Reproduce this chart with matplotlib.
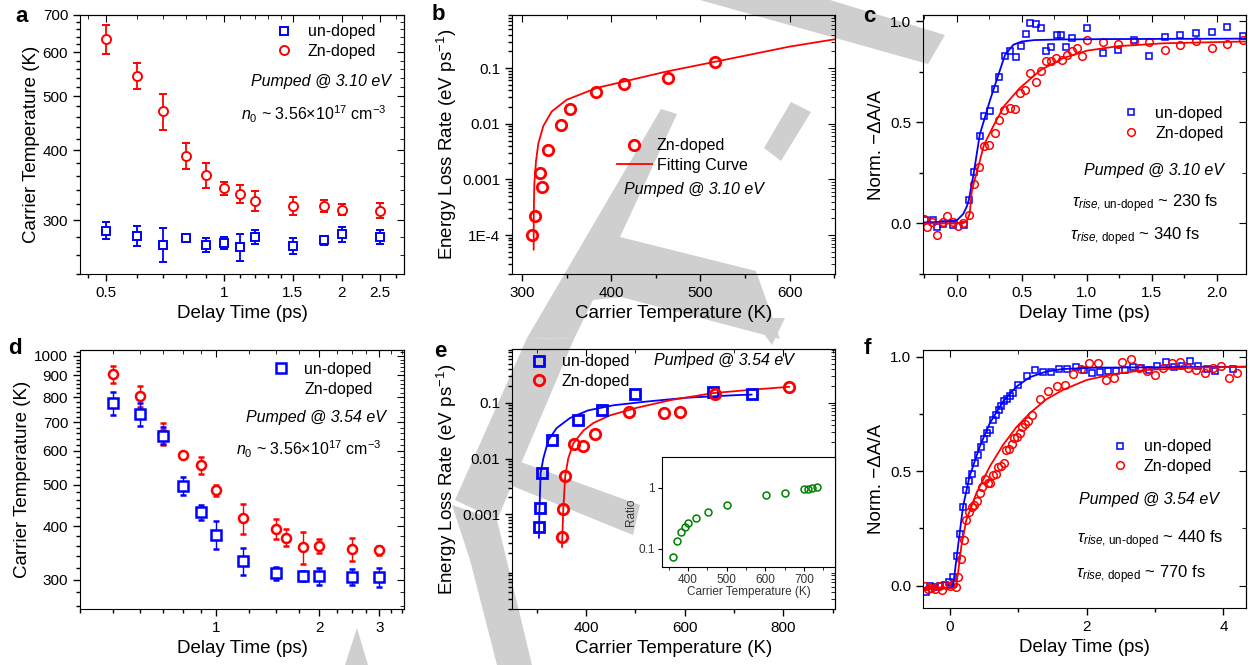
import numpy as np
import matplotlib.pyplot as plt
from matplotlib.ticker import NullFormatter
from matplotlib.lines import Line2D
from matplotlib.patches import Polygon

plt.rcParams['font.family'] = ['Liberation Sans', 'DejaVu Sans']
plt.rcParams['mathtext.fontset'] = 'custom'
plt.rcParams['mathtext.rm'] = 'Liberation Sans'
plt.rcParams['mathtext.it'] = 'Liberation Sans:italic'
plt.rcParams['mathtext.bf'] = 'Liberation Sans:bold'

BLUE = '#0000ff'
RED = '#ff0000'
GREEN = '#008000'

# ---- panel a : carrier temperature, pumped @ 3.10 eV
t_a = [0.5, 0.6, 0.7, 0.8, 0.9, 1.0, 1.1, 1.2, 1.5, 1.8, 2.0, 2.5]
Tzn_a = [634, 545, 471, 391, 361, 342, 334, 325, 318, 318, 313, 312]
Tzn_a_err = [37, 29, 35, 21, 19, 9, 12, 13, 12, 8, 7, 10]
Tun_a = [287, 281, 271, 278, 271, 273, 268, 280, 270, 276, 283, 280]
Tun_a_err = [10, 12, 19, 3, 8, 7, 15, 8, 9, 5, 9, 8]

# ---- panel b : energy loss rate, Zn-doped, 3.10 eV
T_b = [311.6, 314.9, 322.1, 319.8, 328.8, 344.1, 354.2, 383.0, 414.4, 464.1, 516.8]
rate_b = [1.0e-4, 2.2e-4, 7.3e-4, 1.31e-3, 3.4e-3, 9.5e-3, 0.0185, 0.038, 0.052, 0.066, 0.128]
fitT_b = [313.1, 313.2, 313.8, 315.7, 318.3, 323.9, 333.3, 350.1, 383.8, 417.4, 462.3, 500, 550, 599.8, 651]
fitR_b = [5.5e-5, 2.4e-4, 8.1e-4, 2.13e-3, 4.4e-3, 9.1e-3, 0.0166, 0.027, 0.044, 0.059, 0.087, 0.115, 0.167, 0.243, 0.33]

# ---- panel c : normalized -dA/A, 3.10 eV
t_un_c = [-0.244, -0.182, -0.149, -0.103, -0.028, 0.056, 0.092, 0.131, 0.177, 0.210, 0.256, 0.292,
          0.328, 0.372, 0.410, 0.454, 0.492, 0.533, 0.567, 0.613, 0.651, 0.687, 0.728, 0.769, 0.803,
          0.844, 0.885, 1.005, 1.126, 1.244, 1.364, 1.482, 1.603, 1.721, 1.841, 1.962, 2.079, 2.2]
v_un_c = [0.018, 0.018, -0.016, -0.004, -0.010, -0.007, 0.116, 0.256, 0.435, 0.533, 0.554, 0.667,
          0.725, 0.828, 0.853, 0.825, 0.877, 0.938, 0.990, 0.985, 0.969, 0.852, 0.872, 0.931, 0.931,
          0.875, 0.915, 0.969, 0.843, 0.859, 0.905, 0.830, 0.921, 0.934, 0.941, 0.947, 0.974, 0.928]
t_zn_c = [-0.249, -0.228, -0.187, -0.151, -0.108, -0.072, -0.028, 0.010, 0.051, 0.092, 0.131, 0.172,
          0.210, 0.251, 0.292, 0.328, 0.367, 0.408, 0.449, 0.487, 0.528, 0.567, 0.608, 0.646, 0.685,
          0.726, 0.767, 0.808, 0.846, 0.887, 0.926, 0.967, 1.005, 1.126, 1.244, 1.364, 1.482, 1.603,
          1.721, 1.841, 1.962, 2.079, 2.2]
v_zn_c = [0.021, -0.019, 0.007, -0.057, 0.007, 0.037, 0.007, -0.012, 0.003, 0.043, 0.194, 0.279,
          0.382, 0.389, 0.446, 0.510, 0.559, 0.573, 0.564, 0.643, 0.658, 0.743, 0.700, 0.756, 0.803,
          0.805, 0.819, 0.809, 0.834, 0.852, 0.868, 0.827, 0.905, 0.896, 0.890, 0.902, 0.896, 0.859,
          0.884, 0.902, 0.869, 0.888, 0.905]
fit_t_un_c = [-0.26, -0.1, 0.0, 0.05, 0.077, 0.092, 0.131, 0.177, 0.256, 0.328, 0.372, 0.436, 0.5, 0.6, 0.8, 1.2, 2.23]
fit_v_un_c = [0.005, 0.008, 0.015, 0.047, 0.084, 0.113, 0.25, 0.44, 0.61, 0.75, 0.835, 0.884, 0.90, 0.907, 0.91, 0.912, 0.914]
fit_t_zn_c = [-0.26, 0.0, 0.05, 0.077, 0.1, 0.115, 0.131, 0.172, 0.21, 0.292, 0.367, 0.487, 0.646, 0.82, 1.005, 1.244, 1.59, 2.23]
fit_v_zn_c = [0.0, 0.0, 0.002, 0.01, 0.05, 0.157, 0.2, 0.297, 0.39, 0.495, 0.583, 0.671, 0.759, 0.818, 0.855, 0.877, 0.891, 0.90]

# ---- panel d : carrier temperature, pumped @ 3.54 eV
t_zn_d = [0.5, 0.6, 0.7, 0.8, 0.9, 1.0, 1.2, 1.5, 1.6, 1.8, 2.0, 2.5, 3.0]
Tzn_d = [906, 805, 657, 586, 555, 485, 417, 394, 376, 357, 360, 353, 351]
Tzn_d_err = [40, 47, 39, 10, 25, 15, 34, 21, 17, 30, 14, 22, 8]
t_un_d = [0.5, 0.6, 0.7, 0.8, 0.9, 1.0, 1.2, 1.5, 1.8, 2.0, 2.5, 3.0]
Tun_d = [776, 730, 651, 496, 431, 382, 332, 310, 306, 305, 304, 304]
Tun_d_err = [49, 46, 30, 24, 17, 29, 24, 11, 8, 14, 13, 16]

# ---- panel e : energy loss rate, 3.54 eV
T_un_e = [304, 306, 310.8, 331, 383.8, 432.4, 499.3, 658, 735.8]
rate_un_e = [5.8e-4, 1.3e-3, 5.45e-3, 0.0212, 0.049, 0.0746, 0.146, 0.155, 0.141]
T_zn_e = [352, 352.7, 357.4, 375.7, 394.6, 417.6, 487.2, 557.4, 590, 662, 812]
rate_zn_e = [3.94e-4, 1.23e-3, 4.9e-3, 0.0184, 0.0171, 0.0276, 0.0672, 0.0651, 0.0679, 0.146, 0.193]
fitT_un_e = [304.7, 305.4, 308, 313.5, 323.6, 340.5, 367.6, 404.7, 455.4, 523, 604, 705.4, 735.8]
fitR_un_e = [3.8e-4, 1.0e-3, 5.45e-3, 0.01, 0.0212, 0.0351, 0.0533, 0.0731, 0.090, 0.105, 0.123, 0.137, 0.140]
fitT_zn_e = [351.4, 352, 354, 358, 364, 374.3, 394.6, 414.9, 448.6, 502.7, 570.3, 658, 739, 812]
fitR_zn_e = [2.6e-4, 3.9e-4, 1.23e-3, 4.9e-3, 0.01, 0.0187, 0.0316, 0.0433, 0.0593, 0.0811, 0.111, 0.149, 0.172, 0.193]
# inset ratio
T_ratio = [362, 371.5, 382.7, 392.2, 400.9, 420.7, 451.9, 501, 601.4, 651.5, 700, 711, 721.5, 732.8]
ratio = [0.072, 0.133, 0.187, 0.225, 0.259, 0.324, 0.401, 0.528, 0.769, 0.819, 0.951, 0.96, 1.0, 1.04]

# ---- panel f : normalized -dA/A, 3.54 eV
t_un_f = [-0.34, -0.29, -0.22, -0.146, -0.073, -0.01, 0.054, 0.102, 0.151, 0.195, 0.234, 0.278, 0.321,
          0.365, 0.409, 0.453, 0.497, 0.541, 0.585, 0.628, 0.672, 0.716, 0.755, 0.794, 0.838, 0.882,
          0.921, 1.003, 1.125, 1.242, 1.364, 1.481, 1.598, 1.719, 1.841, 1.958, 2.08, 2.197, 2.318,
          2.435, 2.557, 2.674, 2.796, 2.913, 3.035, 3.156, 3.273, 3.395, 3.517, 3.634, 3.756, 3.872, 4.145]
v_un_f = [-0.025, -0.003, -0.006, 0.0, 0.004, 0.015, 0.038, 0.128, 0.227, 0.343, 0.416, 0.459, 0.49,
          0.535, 0.571, 0.605, 0.640, 0.666, 0.680, 0.725, 0.746, 0.767, 0.786, 0.808, 0.815, 0.828,
          0.840, 0.876, 0.917, 0.942, 0.935, 0.933, 0.945, 0.945, 0.953, 0.940, 0.930, 0.935, 0.937,
          0.939, 0.942, 0.956, 0.951, 0.943, 0.961, 0.977, 0.953, 0.959, 0.983, 0.958, 0.945, 0.939, 0.945]
t_zn_f = [-0.365, -0.317, -0.268, -0.214, -0.161, -0.107, -0.054, 0.0, 0.049, 0.088, 0.127, 0.170, 0.205,
          0.244, 0.283, 0.321, 0.360, 0.399, 0.438, 0.477, 0.516, 0.555, 0.594, 0.633, 0.672, 0.711,
          0.750, 0.789, 0.828, 0.867, 0.906, 0.945, 0.984, 1.023, 1.062, 1.101, 1.140, 1.198, 1.320,
          1.442, 1.564, 1.685, 1.802, 1.924, 2.041, 2.163, 2.284, 2.401, 2.523, 2.645, 2.762, 2.884,
          3.005, 3.122, 3.244, 3.366, 3.483, 3.604, 3.726, 3.848, 3.970, 4.087, 4.204]
v_zn_f = [-0.003, -0.015, -0.010, -0.013, -0.003, -0.020, 0.004, 0.001, 0.007, -0.007, 0.038, 0.115, 0.201,
          0.285, 0.320, 0.343, 0.353, 0.369, 0.407, 0.430, 0.465, 0.448, 0.449, 0.484, 0.488, 0.520,
          0.523, 0.538, 0.594, 0.596, 0.619, 0.644, 0.651, 0.666, 0.695, 0.706, 0.717, 0.747, 0.815,
          0.852, 0.871, 0.875, 0.923, 0.948, 0.971, 0.971, 0.897, 0.908, 0.977, 0.988, 0.952, 0.936,
          0.919, 0.949, 0.971, 0.977, 0.952, 0.942, 0.927, 0.949, 0.959, 0.908, 0.927]
fit_t_un_f = [-0.39, 0.0, 0.05, 0.097, 0.195, 0.29, 0.44, 0.585, 0.78, 0.974, 1.169, 1.413, 1.656, 2.143, 4.33]
fit_v_un_f = [-0.01, -0.01, 0.0, 0.113, 0.346, 0.477, 0.608, 0.709, 0.804, 0.869, 0.910, 0.935, 0.946, 0.952, 0.956]
fit_t_zn_f = [-0.39, 0.05, 0.09, 0.122, 0.17, 0.244, 0.39, 0.585, 0.78, 0.974, 1.169, 1.413, 1.656, 2.0, 2.39, 2.87, 3.6, 4.33]
fit_v_zn_f = [-0.01, -0.01, -0.005, 0.055, 0.172, 0.288, 0.404, 0.520, 0.615, 0.692, 0.753, 0.814, 0.855, 0.898, 0.924, 0.942, 0.952, 0.956]

# grey watermark shapes (figure pixels, from top-left)
watermark = [
    [(700, 0), (830, 0), (945, 35), (928, 64)],
    [(764, 148), (791, 102), (811, 112), (781, 161)],
    [(661, 109), (677, 114), (620, 237), (756, 271), (780, 339), (621, 297), (593, 300), (574, 339), (527, 338)],
    [(527, 338), (574, 339), (497, 520), (455, 500)],
    [(452, 505), (497, 520), (532, 665), (497, 665), (470, 560)],
    [(479, 447), (640, 505), (633, 535), (473, 470)],
    [(345, 665), (357, 628), (368, 665)],
    [(752, 318), (785, 318), (772, 345)],
]

W, H = 1250, 665
fig = plt.figure(figsize=(12.5, 6.65), dpi=100)

for poly in watermark:
    fig.patches.append(Polygon([(x / W, 1 - y / H) for x, y in poly], closed=True,
                               transform=fig.transFigure, facecolor='#cfcfcf',
                               edgecolor='none', zorder=-5))


def box(l, t, r, b):
    return [l / W, 1 - b / H, (r - l) / W, (b - t) / H]


def setup(ax, xmaj, xlab, xmin, ymaj, ylab, ymin, size=11):
    ax.set_facecolor('none')
    ax.set_xticks(xmaj, xlab)
    ax.set_xticks(xmin, minor=True)
    ax.set_yticks(ymaj, ylab)
    ax.set_yticks(ymin, minor=True)
    ax.xaxis.set_minor_formatter(NullFormatter())
    ax.yaxis.set_minor_formatter(NullFormatter())
    ax.tick_params(which='both', direction='out', labelsize=size, width=1)
    ax.tick_params(which='major', length=5)
    ax.tick_params(which='minor', length=3)
    top = ax.secondary_xaxis('top')
    top.set_xticks(xmaj, [''] * len(xmaj))
    top.set_xticks(xmin, minor=True)
    top.xaxis.set_minor_formatter(NullFormatter())
    top.tick_params(which='both', direction='in', labeltop=False)
    top.tick_params(which='major', length=5)
    top.tick_params(which='minor', length=3)
    right = ax.secondary_yaxis('right')
    right.set_yticks(ymaj, [''] * len(ymaj))
    right.set_yticks(ymin, minor=True)
    right.yaxis.set_minor_formatter(NullFormatter())
    right.tick_params(which='both', direction='in', labelright=False)
    right.tick_params(which='major', length=5)
    right.tick_params(which='minor', length=3)


LBL = 13.5
TXT = 11.5

# ================= a
ax = fig.add_axes(box(80, 15, 404, 274))
ax.set_xscale('log'); ax.set_yscale('log')
ax.set_xlim(0.43, 2.88); ax.set_ylim(240, 700)
ax.errorbar(t_a, Tun_a, yerr=Tun_a_err, fmt='s', ms=6, mfc='white', mec=BLUE, mew=1.4,
            ecolor=BLUE, elinewidth=1.3, capsize=3, capthick=1.3)
ax.errorbar(t_a, Tzn_a, yerr=Tzn_a_err, fmt='o', ms=6.5, mfc='white', mec=RED, mew=1.4,
            ecolor=RED, elinewidth=1.3, capsize=3, capthick=1.3)
setup(ax, [0.5, 1, 1.5, 2, 2.5], ['0.5', '1', '1.5', '2', '2.5'],
      [0.45, 0.6, 0.7, 0.8, 0.9, 1.1, 1.2, 1.3, 1.4, 1.75, 2.25, 2.75],
      [300, 400, 500, 600, 700], ['300', '400', '500', '600', '700'],
      list(range(240, 700, 20)))
ax.set_xlabel('Delay Time (ps)', fontsize=LBL)
ax.set_ylabel('Carrier Temperature (K)', fontsize=LBL, labelpad=2)
h = [Line2D([], [], ls='none', marker='s', ms=6, mfc='white', mec=BLUE, mew=1.4),
     Line2D([], [], ls='none', marker='o', ms=6.5, mfc='white', mec=RED, mew=1.4)]
ax.legend(h, ['un-doped', 'Zn-doped'], loc='upper left', bbox_to_anchor=(0.555, 1.02),
          frameon=False, fontsize=TXT, handlelength=1.2, handletextpad=0.9, labelspacing=0.3)
ax.text(0.96, 0.745, 'Pumped @ 3.10 eV', transform=ax.transAxes, ha='right', va='center',
        fontsize=TXT, style='italic')
ax.text(0.945, 0.615, r'$n_{\mathit{0}}$ ~ 3.56×10$^{17}$ cm$^{-3}$', transform=ax.transAxes,
        ha='right', va='center', fontsize=TXT)

# ================= b
ax = fig.add_axes(box(512, 15, 835, 274))
ax.set_yscale('log')
ax.set_xlim(288.8, 651); ax.set_ylim(5.5e-5, 0.66)
ax.plot(fitT_b, fitR_b, color=RED, lw=1.3)
ax.plot(T_b, rate_b, ls='none', marker='o', ms=7.5, mfc='none', mec=RED, mew=2)
ymin_log = [m * 10.0 ** e for e in range(-5, 0) for m in range(2, 10)]
setup(ax, [300, 400, 500, 600], ['300', '400', '500', '600'], [350, 450, 550, 650],
      [1e-4, 1e-3, 1e-2, 1e-1], ['1E-4', '0.001', '0.01', '0.1'], ymin_log)
ax.set_xlabel('Carrier Temperature (K)', fontsize=LBL)
ax.set_ylabel(r'Energy Loss Rate (eV ps$^{-1}$)', fontsize=LBL, labelpad=2)
h = [Line2D([], [], ls='none', marker='o', ms=7.5, mfc='none', mec=RED, mew=2),
     Line2D([], [], color=RED, lw=1.3)]
ax.legend(h, ['Zn-doped', 'Fitting Curve'], loc='upper left', bbox_to_anchor=(0.28, 0.58),
          frameon=False, fontsize=TXT, handlelength=2.2, handletextpad=0.3, labelspacing=0.3)
ax.text(0.347, 0.328, 'Pumped @ 3.10 eV', transform=ax.transAxes, ha='left', va='center',
        fontsize=TXT, style='italic')

# ================= c
ax = fig.add_axes(box(923, 15, 1246, 274))
ax.set_xlim(-0.26, 2.226); ax.set_ylim(-0.11, 1.031)
ax.plot(t_un_c, v_un_c, ls='none', marker='s', ms=5, mfc='none', mec=BLUE, mew=1.1)
ax.plot(t_zn_c, v_zn_c, ls='none', marker='o', ms=5.5, mfc='none', mec=RED, mew=1.1)
ax.plot(fit_t_un_c, fit_v_un_c, color=BLUE, lw=1.3)
ax.plot(fit_t_zn_c, fit_v_zn_c, color=RED, lw=1.3)
setup(ax, [0, 0.5, 1, 1.5, 2], ['0.0', '0.5', '1.0', '1.5', '2.0'], [-0.25, 0.25, 0.75, 1.25, 1.75],
      [0, 0.5, 1.0], ['0.0', '0.5', '1.0'], [-0.25, 0.25, 0.75])
ax.set_xlabel('Delay Time (ps)', fontsize=LBL)
ax.set_ylabel('Norm. \u2212\u0394A/A', fontsize=LBL, labelpad=4)
h = [Line2D([], [], ls='none', marker='s', ms=5, mfc='none', mec=BLUE, mew=1.1),
     Line2D([], [], ls='none', marker='o', ms=5.5, mfc='none', mec=RED, mew=1.1)]
ax.legend(h, ['un-doped', 'Zn-doped'], loc='upper left', bbox_to_anchor=(0.57, 0.705),
          frameon=False, fontsize=TXT, handlelength=1.2, handletextpad=0.9, labelspacing=0.3)
ax.text(0.93, 0.40, 'Pumped @ 3.10 eV', transform=ax.transAxes, ha='right', va='center',
        fontsize=TXT, style='italic')
ax.text(0.46, 0.27, r'$\tau_{rise\text{, un-doped}}$ ~ 230 fs', transform=ax.transAxes,
        ha='left', va='center', fontsize=12)
ax.text(0.455, 0.143, r'$\tau_{rise\text{, doped}}$ ~ 340 fs', transform=ax.transAxes,
        ha='left', va='center', fontsize=12)

# ================= d
ax = fig.add_axes(box(80, 350, 404, 609))
ax.set_xscale('log'); ax.set_yscale('log')
ax.set_xlim(0.4, 3.54); ax.set_ylim(256, 1032)
ax.errorbar(t_zn_d, Tzn_d, yerr=Tzn_d_err, fmt='o', ms=6.5, mfc='white', mec=RED, mew=1.8,
            ecolor=RED, elinewidth=1.0, capsize=2.5, capthick=1.0)
ax.errorbar(t_un_d, Tun_d, yerr=Tun_d_err, fmt='s', ms=6.5, mfc='white', mec=BLUE, mew=1.8,
            ecolor=BLUE, elinewidth=1.0, capsize=2.5, capthick=1.0)
setup(ax, [1, 2, 3], ['1', '2', '3'],
      [0.4, 0.5, 0.6, 0.7, 0.8, 0.9, 1.25, 1.5, 1.75, 2.25, 2.5, 2.75, 3.25, 3.5],
      [300, 400, 500, 600, 700, 800, 900, 1000],
      ['300', '400', '500', '600', '700', '800', '900', '1000'],
      list(range(260, 1040, 20)))
ax.set_xlabel('Delay Time (ps)', fontsize=LBL)
ax.set_ylabel('Carrier Temperature (K)', fontsize=LBL, labelpad=2)
h = [Line2D([], [], ls='none', marker='s', ms=6.5, mfc='white', mec=BLUE, mew=1.8),
     Line2D([], [], ls='none')]
ax.legend(h, ['un-doped', 'Zn-doped'], loc='upper left', bbox_to_anchor=(0.545, 1.01),
          frameon=False, fontsize=TXT, handlelength=1.2, handletextpad=0.9, labelspacing=0.3)
ax.text(0.945, 0.741, 'Pumped @ 3.54 eV', transform=ax.transAxes, ha='right', va='center',
        fontsize=TXT, style='italic')
ax.text(0.93, 0.615, r'$n_{\mathit{0}}$ ~ 3.56×10$^{17}$ cm$^{-3}$', transform=ax.transAxes,
        ha='right', va='center', fontsize=TXT)

# ================= e
ax = fig.add_axes(box(512, 349, 835, 609))
ax.set_yscale('log')
ax.set_xlim(250, 905); ax.set_ylim(2.6e-4, 0.92)
ax.plot(fitT_un_e, fitR_un_e, color=BLUE, lw=1.3)
ax.plot(fitT_zn_e, fitR_zn_e, color=RED, lw=1.3)
ax.plot(T_un_e, rate_un_e, ls='none', marker='s', ms=7.5, mfc='none', mec=BLUE, mew=2)
ax.plot(T_zn_e, rate_zn_e, ls='none', marker='o', ms=7.5, mfc='none', mec=RED, mew=2)
setup(ax, [400, 600, 800], ['400', '600', '800'], [300, 500, 700, 900],
      [1e-3, 1e-2, 1e-1], ['0.001', '0.01', '0.1'], ymin_log)
ax.set_xlabel('Carrier Temperature (K)', fontsize=LBL)
ax.set_ylabel(r'Energy Loss Rate (eV ps$^{-1}$)', fontsize=LBL, labelpad=2)
h = [Line2D([], [], ls='none', marker='s', ms=7.5, mfc='none', mec=BLUE, mew=2),
     Line2D([], [], ls='none', marker='o', ms=7.5, mfc='none', mec=RED, mew=2)]
ax.legend(h, ['un-doped', 'Zn-doped'], loc='upper left', bbox_to_anchor=(0.01, 1.035),
          frameon=False, fontsize=TXT, handlelength=1.2, handletextpad=0.8, labelspacing=0.3)
ax.text(0.44, 0.954, 'Pumped @ 3.54 eV', transform=ax.transAxes, ha='left', va='center',
        fontsize=TXT, style='italic')

ins = fig.add_axes(box(662, 457, 835, 567))
ins.set_facecolor('white')
ins.set_yscale('log')
ins.set_xlim(333, 780); ins.set_ylim(0.05, 3.2)
ins.plot(T_ratio, ratio, ls='none', marker='o', ms=5, mfc='none', mec=GREEN, mew=1.1)
ins.set_xticks([400, 500, 600, 700], ['400', '500', '600', '700'])
ins.set_xticks([350, 450, 550, 650, 750], minor=True)
ins.set_yticks([0.1, 1], ['0.1', '1'])
ins.set_yticks([], minor=True)
ins.xaxis.set_minor_formatter(NullFormatter())
ins.yaxis.set_minor_formatter(NullFormatter())
ins.tick_params(which='both', direction='out', labelsize=8.5, labelcolor='#333333', pad=2)
ins.tick_params(which='major', length=3)
ins.tick_params(which='minor', length=2)
ins.set_xlabel('Carrier Temperature (K)', fontsize=8.5, labelpad=0, color='#333333')
ins.set_ylabel('Ratio', fontsize=8.5, labelpad=1, color='#333333')

# ================= f
ax = fig.add_axes(box(923, 350, 1246, 608))
ax.set_xlim(-0.39, 4.33); ax.set_ylim(-0.097, 1.029)
ax.plot(t_un_f, v_un_f, ls='none', marker='s', ms=5, mfc='none', mec=BLUE, mew=1.1)
ax.plot(t_zn_f, v_zn_f, ls='none', marker='o', ms=5.5, mfc='none', mec=RED, mew=1.1)
ax.plot(fit_t_un_f, fit_v_un_f, color=BLUE, lw=1.3)
ax.plot(fit_t_zn_f, fit_v_zn_f, color=RED, lw=1.3)
setup(ax, [0, 2, 4], ['0', '2', '4'], [1, 3],
      [0, 0.5, 1.0], ['0.0', '0.5', '1.0'], [0.25, 0.75])
ax.set_xlabel('Delay Time (ps)', fontsize=LBL)
ax.set_ylabel('Norm. \u2212\u0394A/A', fontsize=LBL, labelpad=4)
h = [Line2D([], [], ls='none', marker='s', ms=5, mfc='none', mec=BLUE, mew=1.1),
     Line2D([], [], ls='none', marker='o', ms=5.5, mfc='none', mec=RED, mew=1.1)]
ax.legend(h, ['un-doped', 'Zn-doped'], loc='upper left', bbox_to_anchor=(0.535, 0.71),
          frameon=False, fontsize=TXT, handlelength=1.2, handletextpad=0.9, labelspacing=0.3)
ax.text(0.483, 0.42, 'Pumped @ 3.54 eV', transform=ax.transAxes, ha='left', va='center',
        fontsize=TXT, style='italic')
ax.text(0.478, 0.266, r'$\tau_{rise\text{, un-doped}}$ ~ 440 fs', transform=ax.transAxes,
        ha='left', va='center', fontsize=12)
ax.text(0.475, 0.131, r'$\tau_{rise\text{, doped}}$ ~ 770 fs', transform=ax.transAxes,
        ha='left', va='center', fontsize=12)

# panel letters
for letter, (x, y) in zip('abcdef', [(22, 17), (438, 15), (869, 17), (15, 349), (440, 352), (867, 349)]):
    fig.text(x / W, 1 - y / H, letter, ha='center', va='center', fontsize=16, fontweight='bold')

fig.savefig('out.png', dpi=100)
